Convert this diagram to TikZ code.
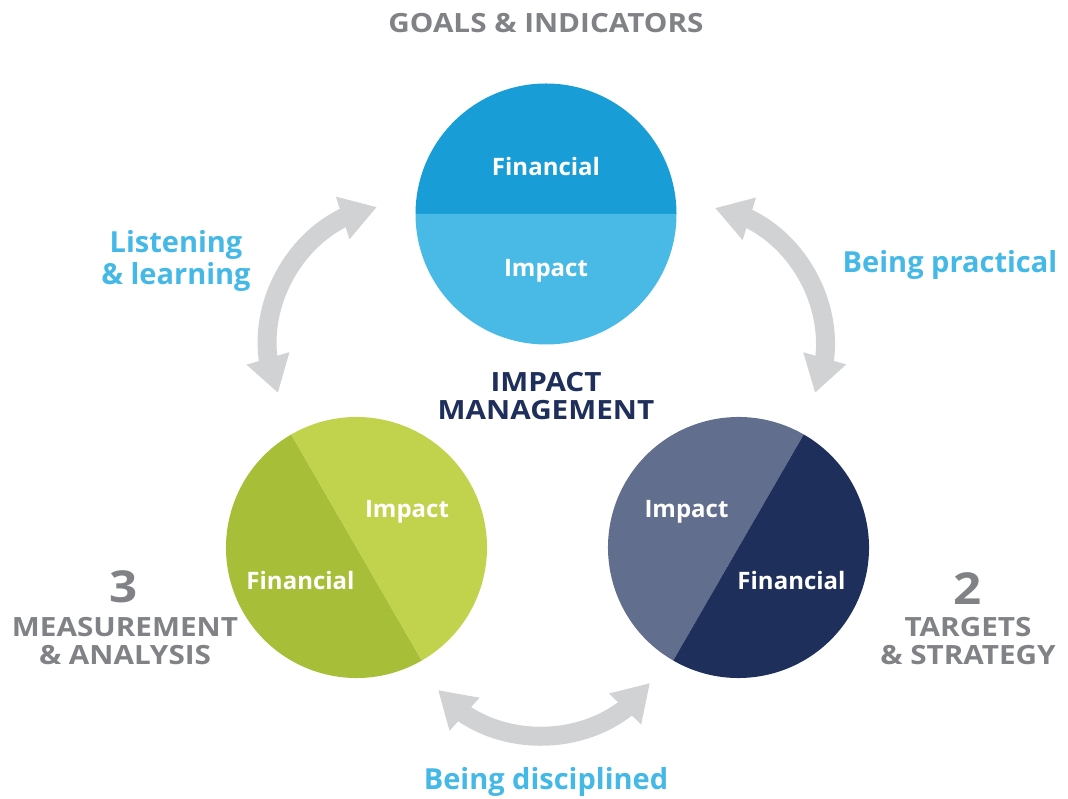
\documentclass[tikz,border=0pt]{standalone}
\usepackage{fontspec}
\setmainfont{Open Sans}
\newfontfamily\widefont{Open Sans}[FakeStretch=1.12]
\usetikzlibrary{arrows.meta,bending,calc}
\definecolor{goaldark}{HTML}{189DD6}
\definecolor{goallight}{HTML}{49BAE6}
\definecolor{greendark}{HTML}{A7BE38}
\definecolor{greenlight}{HTML}{C1D24C}
\definecolor{slate}{HTML}{626E8D}
\definecolor{navy}{HTML}{1E2F5B}
\definecolor{labelblue}{HTML}{44B8E6}
\definecolor{labelgrey}{HTML}{808285}
\definecolor{arrowgrey}{HTML}{D1D2D4}

\begin{document}
\begin{tikzpicture}[x=1pt, y=1pt,
disc/.style={circle, minimum size=261pt, inner sep=0pt, outer sep=0pt},
intext/.style={anchor=base, text=white, font=\fontsize{24}{30}\selectfont\bfseries},
sidetext/.style={anchor=base, text=labelblue, align=center, font=\fontsize{29}{32}\selectfont\bfseries},
steptext/.style={anchor=base, text=labelgrey, align=center, font=\widefont\fontsize{26.5}{28}\selectfont\bfseries},
stepnum/.style={anchor=base, text=labelgrey, font=\widefont\fontsize{44}{44}\selectfont\bfseries},
loop/.style={draw=arrowgrey, line width=19pt, {Triangle[width=42pt,length=36pt]}-{Triangle[width=42pt,length=36pt]}},
]
\useasboundingbox (0,0) rectangle (1068,798);
%Nodes
\node[disc] at (546,584)     (goals)   {};
\node[disc] at (356.5,250.5) (measure) {};
\node[disc] at (738.5,250.5) (targets) {};
%Halves
\fill[goaldark]   (goals.west)  arc[start angle=180, end angle=0,    radius=130.5] -- cycle;
\fill[goallight]  (goals.east)  arc[start angle=0,   end angle=-180, radius=130.5] -- cycle;
\fill[greendark]  (measure.120) arc[start angle=120, end angle=300,  radius=130.5] -- cycle;
\fill[greenlight] (measure.300) arc[start angle=-60, end angle=120,  radius=130.5] -- cycle;
\fill[slate]      (targets.60)  arc[start angle=60,  end angle=240,  radius=130.5] -- cycle;
\fill[navy]       (targets.240) arc[start angle=-120,end angle=60,   radius=130.5] -- cycle;
%Texts (multi-line nodes sit on the baseline of their last line)
\node[intext] at ($(goals)+(0,38)$)          (goalsfin)   {Financial};
\node[intext] at ($(goals)+(0,-63)$)         (goalsimp)   {Impact};
\node[intext] at ($(measure)+(50.5,29.5)$)   (measureimp) {Impact};
\node[intext] at ($(measure)+(-56,-42.5)$)   (measurefin) {Financial};
\node[intext] at ($(targets)+(-52,29.5)$)    (targetsimp) {Impact};
\node[intext] at ($(targets)+(53,-42.5)$)    (targetsfin) {Financial};
\node[steptext] at ($(goals)+(0,181)$)       (goalstitle) {GOALS \& INDICATORS};
\node[steptext, text=navy] at ($(goals)+(0,-206)$) (centre) {IMPACT\\MANAGEMENT};
\node[stepnum]  at (124,195)   (three)   {3};
\node[steptext] at (125,133)   (measuretitle) {MEASUREMENT\\\& ANALYSIS};
\node[stepnum]  at (968,193)   (two)     {2};
\node[steptext] at (968,133)   (targetstitle) {TARGETS\\\& STRATEGY};
\node[sidetext] at (176,513)   (listen)  {Listening\\\& learning};
\node[sidetext] at (950,525)   (practical) {Being practical};
\node[sidetext] at (546,9)     (disciplined) {Being disciplined};
%Arrows
\coordinate (listenA) at (278,405);
\coordinate (listenB) at (377,591);
\coordinate (practA)  at (715,590);
\coordinate (practB)  at (815,405);
\coordinate (disciA)  at (438,108);
\coordinate (disciB)  at (650,115);
\path[loop] (listenA) to[bend left=53] (listenB);
\path[loop] (practA) to[bend left=53] (practB);
\path[loop] (disciA) to[bend right=53] (disciB);
\end{tikzpicture}
\end{document}
